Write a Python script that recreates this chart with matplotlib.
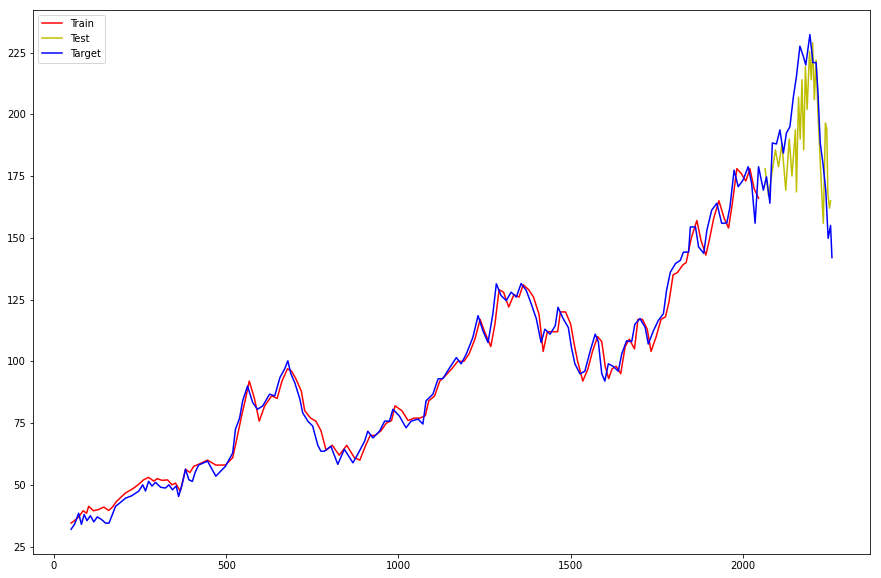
import matplotlib
matplotlib.use('Agg')
import matplotlib.pyplot as plt

# values
target_x = [50, 60, 72, 80, 88, 96, 106, 116, 126, 138, 150, 160, 170, 179, 190,
            208, 225, 246, 258, 266, 275, 285, 295, 310, 324, 334, 344, 355, 362, 372,
            382, 392, 402, 410, 420, 446, 470, 498, 519, 527, 539, 548, 562, 577, 591,
            606, 626, 641, 656, 670, 679, 688, 699, 714, 722, 737, 751, 766, 775, 785,
            804, 824, 843, 868, 882, 902, 911, 926, 945, 960, 974, 984, 1003, 1022, 1037,
            1057, 1071, 1080, 1100, 1115, 1129, 1149, 1168, 1182, 1197, 1216, 1231, 1245, 1260, 1274,
            1284, 1298, 1313, 1327, 1342, 1356, 1371, 1385, 1400, 1414, 1425, 1440, 1455, 1463, 1478,
            1493, 1502, 1512, 1527, 1541, 1556, 1571, 1580, 1590, 1599, 1609, 1623, 1638, 1648, 1662,
            1677, 1686, 1701, 1716, 1725, 1740, 1754, 1769, 1778, 1789, 1804, 1818, 1827, 1842, 1847,
            1862, 1871, 1886, 1895, 1909, 1924, 1938, 1953, 1962, 1974, 1986, 2000, 2015, 2025, 2035,
            2045, 2059, 2068, 2078, 2085, 2097, 2107, 2117, 2126, 2136, 2146, 2155, 2165, 2175, 2182,
            2194, 2203, 2212, 2217, 2224, 2232, 2240, 2247, 2254, 2258]
target_y = [32, 34, 38.5, 34, 38, 35.5, 37.5, 35, 37, 36, 34.5, 34.5, 38, 41.3, 42.5,
            44.6, 45.5, 47.4, 50, 47.5, 51.4, 49.5, 51, 49, 48.7, 50, 48, 49.5, 45.3, 50,
            56.3, 52, 51.4, 55, 58, 59.6, 53.5, 57.5, 62.9, 72.5, 77, 84, 90, 83.3, 80.6,
            81.9, 86.7, 86, 93.4, 97, 100.2, 94.9, 91.4, 84.7, 79.2, 75.8, 73.8, 66, 63.6, 63.6,
            65.6, 58.3, 64.4, 58.9, 62.4, 67.7, 71.7, 69, 71.7, 75.8, 75.8, 80.6, 77.8, 73.1, 75.8,
            76.6, 74.6, 84, 86.7, 92.9, 93, 97.5, 101.5, 99, 103, 109.7, 118.5, 112.4, 107.6, 119.2,
            131.4, 126.6, 124.6, 128, 126, 131.5, 128.7, 123.4, 117.3, 107.6, 113, 111, 114.4, 121.9, 117.3,
            113.7, 105.6, 99, 94.9, 96, 104, 111, 108, 95, 92, 99, 98, 96, 103, 108.3,
            108, 115, 117.3, 113.7, 107, 112.4, 116.5, 119.3, 128.7, 136.1, 139.6, 140.9, 144.2, 144.2, 154.4,
            154.4, 146.3, 143.7, 153, 161.2, 164, 155.9, 156, 162.5, 177.4, 170.7, 173.4, 178.8, 172, 155.9,
            178.8, 169.3, 174.7, 164, 188.4, 188, 193.7, 184.3, 192.5, 195, 207, 215.4, 227.6, 223.5, 220,
            232.3, 220.9, 221, 210, 188.4, 180, 169.3, 149.8, 155, 142]

train_x = [50, 60, 72, 85, 95, 101, 115, 130, 145, 159, 170, 182, 208, 230, 246,
           260, 275, 290, 300, 314, 330, 343, 353, 367, 375, 382, 395, 406, 420, 446,
           470, 498, 519, 530, 545, 555, 567, 582, 596, 612, 632, 648, 662, 678, 690,
           702, 718, 728, 745, 760, 775, 790, 808, 828, 850, 872, 888, 905, 918, 932,
           950, 965, 980, 990, 1010, 1028, 1045, 1062, 1078, 1088, 1105, 1120, 1135, 1155, 1172,
           1190, 1205, 1222, 1237, 1250, 1268, 1280, 1292, 1305, 1320, 1335, 1350, 1362, 1378, 1392,
           1408, 1420, 1432, 1448, 1462, 1470, 1485, 1500, 1510, 1520, 1535, 1550, 1563, 1578, 1590,
           1600, 1610, 1620, 1632, 1645, 1658, 1670, 1685, 1695, 1708, 1722, 1733, 1748, 1762, 1775,
           1785, 1797, 1810, 1825, 1835, 1850, 1866, 1878, 1892, 1902, 1915, 1930, 1945, 1958, 1968,
           1982, 1995, 2008, 2020, 2032, 2045]
train_y = [34.5, 35.5, 37, 39.5, 38.5, 41.3, 39.5, 40, 41, 39.6, 41, 43.3, 46.7, 48.5, 50.2,
           52, 53, 51.5, 52.5, 51.8, 52, 50, 50.7, 47.4, 52, 56.3, 55, 57.5, 58.3, 60,
           58, 58, 61, 68, 78, 84, 92, 85, 75.8, 82, 86, 85, 92, 97, 96,
           93, 88, 80, 77, 75.8, 72, 64, 66, 62, 66, 61, 60, 66, 70, 70,
           72, 75, 76, 82, 80, 76, 77, 77, 78, 84, 86, 92, 94, 97, 100,
           100, 103, 109, 117, 112, 106, 115, 129, 128, 122, 127, 126, 131, 129, 126,
           119, 104, 112, 112, 112, 120, 120, 115, 107, 100, 92, 97, 104, 110, 108,
           98, 93, 97, 98, 95, 106, 109, 105, 117, 117, 113, 104, 110, 117, 118,
           124, 135, 136, 139, 140, 150, 157, 149, 143, 149, 158, 165, 158, 154, 163,
           178, 176, 173, 178, 170, 166]

test_x = [2064, 2074, 2094, 2103, 2113, 2124, 2134, 2142, 2152, 2155, 2161, 2166, 2171, 2176, 2181,
          2186, 2193, 2198, 2202, 2207, 2212, 2217, 2222, 2227, 2233, 2239, 2243, 2246, 2251, 2254]
test_y = [178, 167, 185.6, 178.8, 188, 169.3, 190, 175, 193.7, 168.6, 207, 190, 214, 185.6, 219.4,
          202, 225.5, 214, 229, 205.9, 222, 202, 187, 172, 155.9, 196.5, 194, 168, 162, 165]

# reference was rendered at 72 dpi
fig = plt.figure(figsize=[881 / 72.0, 578 / 72.0], dpi=72)
ax = fig.add_axes([0.0375, 0.0415, 0.95, 0.9415])
ax.plot(train_x, train_y, color='r', label='Train')
ax.plot(test_x, test_y, color='y', label='Test')
ax.plot(target_x, target_y, color='b', label='Target')
ax.legend(loc='upper left')
ax.set_yticks([25, 50, 75, 100, 125, 150, 175, 200, 225])

fig.savefig('out.png', dpi=72)
